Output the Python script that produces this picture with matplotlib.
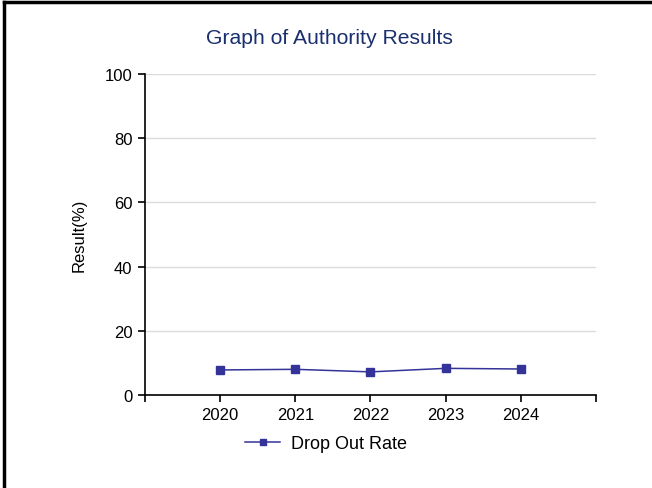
import matplotlib
matplotlib.use('Agg')
import matplotlib.pyplot as plt
from matplotlib.lines import Line2D

# --- Data ---
years = [2020, 2021, 2022, 2023, 2024]
drop_out_rate = [7.8, 8.0, 7.2, 8.3, 8.1]
y_ticks = [0, 20, 40, 60, 80, 100]

plt.rcParams['font.family'] = ['Liberation Sans', 'DejaVu Sans']

fig = plt.figure(figsize=(6.52, 4.89), dpi=100)
ax = fig.add_axes([0.2224, 0.1902, 0.6916, 0.6564])

line_color = '#333399'
ax.plot(years, drop_out_rate, color=line_color, linewidth=1.1,
        marker='s', markersize=5.8, markeredgecolor=line_color,
        markerfacecolor=line_color, label='Drop Out Rate', zorder=3)

ax.set_xlim(min(years) - 1, max(years) + 1)
ax.set_ylim(0, 100)
ax.set_yticks(y_ticks)
xt = [min(years) - 1] + years + [max(years) + 1]
ax.set_xticks(xt)
ax.set_xticklabels([''] + [str(y) for y in years] + [''])

ax.yaxis.grid(True, color='#dcdcdc', linewidth=1)
ax.set_axisbelow(True)
for side in ['top', 'right']:
    ax.spines[side].set_visible(False)
for side in ['left', 'bottom']:
    ax.spines[side].set_linewidth(1.2)
ax.tick_params(axis='both', direction='out', length=5, width=1.2,
               labelsize=12, pad=4)

ax.set_ylabel('Result(%)', fontsize=12, labelpad=13)
fig.text(0.506, 0.922, 'Graph of Authority Results', ha='center', va='center',
         fontsize=15.2, color='#1a2f6e')

fig.legend(loc='center', bbox_to_anchor=(0.5, 0.09), frameon=False,
           fontsize=13, handlelength=1.9, handletextpad=0.6, markerscale=0.75)

# outer frame (left and top edges)
fig.add_artist(Line2D([0.0061, 0.0061], [0, 0.9939], transform=fig.transFigure,
                      color='black', linewidth=2.5))
fig.add_artist(Line2D([0.0061, 1], [0.9939, 0.9939], transform=fig.transFigure,
                      color='black', linewidth=2.5))

fig.savefig('out.png', dpi=100)
